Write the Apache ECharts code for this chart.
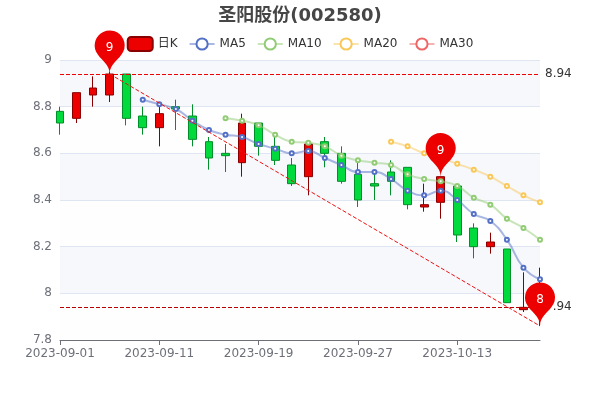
<!DOCTYPE html>
<html><head><meta charset="utf-8">
<script src="https://cdn.jsdelivr.net/npm/echarts@6/dist/echarts.min.js"></script>
<style>html,body{margin:0;padding:0;background:#fff}#c{width:600px;height:400px}</style></head>
<body><div id="c"></div>
<script>
const dates=['2023-09-01','2023-09-04','2023-09-05','2023-09-06','2023-09-07','2023-09-08','2023-09-11','2023-09-12','2023-09-13','2023-09-14','2023-09-15','2023-09-18','2023-09-19','2023-09-20','2023-09-21','2023-09-22','2023-09-25','2023-09-26','2023-09-27','2023-09-28','2023-10-09','2023-10-10','2023-10-11','2023-10-12','2023-10-13','2023-10-16','2023-10-17','2023-10-18','2023-10-19','2023-10-20'];
const opens =[8.78,8.75,8.85,8.85,8.94,8.76,8.71,8.80,8.76,8.65,8.60,8.56,8.73,8.63,8.55,8.50,8.65,8.60,8.51,8.47,8.52,8.54,8.37,8.39,8.46,8.28,8.20,8.19,7.93,7.94];
const closes=[8.73,8.86,8.88,8.94,8.75,8.71,8.77,8.79,8.66,8.58,8.59,8.73,8.63,8.57,8.47,8.64,8.60,8.48,8.40,8.46,8.48,8.38,8.38,8.50,8.25,8.20,8.22,7.96,7.94,8.00];
const lows  =[8.68,8.73,8.80,8.82,8.72,8.68,8.63,8.70,8.63,8.53,8.52,8.50,8.59,8.55,8.46,8.42,8.54,8.47,8.37,8.40,8.42,8.36,8.35,8.32,8.22,8.15,8.17,7.96,7.92,7.86];
const highs =[8.80,8.86,8.93,8.95,8.94,8.80,8.80,8.83,8.81,8.67,8.64,8.77,8.73,8.67,8.58,8.65,8.67,8.63,8.56,8.52,8.57,8.54,8.47,8.50,8.46,8.30,8.26,8.19,8.09,8.11];
const ma5 =['-','-','-','-','-',8.83,8.81,8.79,8.74,8.70,8.68,8.67,8.64,8.62,8.60,8.61,8.58,8.55,8.52,8.52,8.49,8.44,8.42,8.44,8.40,8.34,8.31,8.23,8.11,8.06];
const ma10=['-','-','-','-','-','-','-','-','-','-',8.75,8.74,8.72,8.68,8.65,8.645,8.63,8.59,8.57,8.56,8.55,8.51,8.49,8.48,8.46,8.41,8.38,8.32,8.28,8.23];
const ma20=['-','-','-','-','-','-','-','-','-','-','-','-','-','-','-','-','-','-','-','-',8.65,8.63,8.60,8.58,8.555,8.53,8.50,8.46,8.42,8.39];
const ma30=dates.map(()=> '-');
const yTop=8.94, yBottom=7.94;
const pins=[[3,8.94],[23,8.50],[29,7.86]];
const trendStart=[3,8.94], trendEnd=[29,7.86];

const up='#ec0000',upB='#8A0000',dn='#00da3c',dnB='#008F28';
const FONT='DejaVu Sans, "Noto Sans CJK SC", sans-serif';
const maSeries=(name,data,color)=>({name,type:'line',data,smooth:true,symbol:'emptyCircle',symbolSize:4,itemStyle:{color},lineStyle:{color,opacity:.5}});
const chart=echarts.init(document.getElementById('c'),null,{renderer:'canvas'});
chart.setOption({
  animation:false,
  title:{text:'圣阳股份(002580)',left:'center',top:2,textStyle:{fontSize:18,fontWeight:'bold',color:'#464646',fontFamily:FONT}},
  legend:{data:['日K','MA5','MA10','MA20','MA30'],top:31,itemGap:11,textStyle:{fontSize:12,color:'#333',fontFamily:FONT}},
  textStyle:{fontFamily:FONT},
  grid:{left:60,right:60,top:60,bottom:60},
  xAxis:{type:'category',data:dates,boundaryGap:false,axisLabel:{interval:5,color:'#6E7079',fontSize:12},axisTick:{show:true},axisLine:{lineStyle:{color:'#6E7079'}}},
  yAxis:{type:'value',min:7.8,max:9,interval:.2,scale:true,
    splitLine:{lineStyle:{color:'#E0E6F1'}},
    splitArea:{show:true,areaStyle:{color:['rgba(250,250,250,0.2)','rgba(210,219,238,0.2)']}},
    axisLabel:{color:'#6E7079',fontSize:12}},
  series:[
    {name:'日K',type:'candlestick',clip:false,
     data:dates.map((_,i)=>[opens[i],closes[i],lows[i],highs[i]]),
     itemStyle:{color:up,color0:dn,borderColor:upB,borderColor0:dnB},
     markPoint:{z:10,symbol:'pin',symbolSize:50,itemStyle:{color:'#ec0000'},label:{color:'#fff',fontSize:12},
       data:pins.map(p=>({coord:[dates[p[0]],p[1]],value:Math.round(p[1])}))},
     markLine:{symbol:'none',silent:true,precision:2,
       data:[
        {yAxis:yTop,lineStyle:{color:'#ee0000',type:'dashed',width:1},label:{formatter:String(yTop),position:'end',color:'#333',fontSize:12}},
        {yAxis:yBottom,lineStyle:{color:'#b80000',type:'dashed',width:1},label:{formatter:String(yBottom),position:'end',color:'#333',fontSize:12}},
        [{coord:[dates[trendStart[0]],trendStart[1]],lineStyle:{color:'#f01010',type:'dashed',width:1},label:{show:false}},{coord:[dates[trendEnd[0]],trendEnd[1]]}]
       ]}
    },
    maSeries('MA5',ma5,'#5470c6'),maSeries('MA10',ma10,'#91cc75'),maSeries('MA20',ma20,'#fac858'),maSeries('MA30',ma30,'#ee6666')
  ]
});
</script></body></html>
